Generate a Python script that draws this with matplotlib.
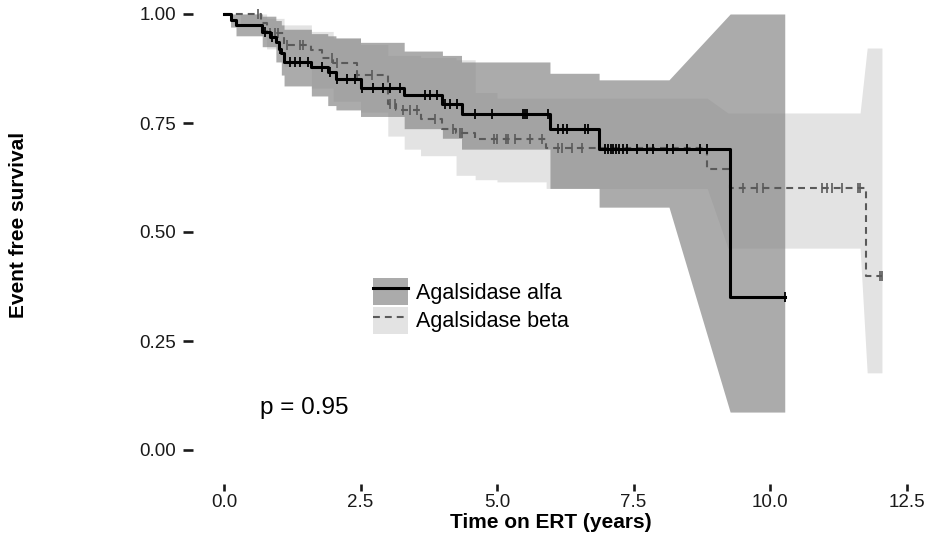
import numpy as np
import matplotlib
matplotlib.use("Agg")
import matplotlib.pyplot as plt
from matplotlib.patches import Patch
from matplotlib.lines import Line2D

plt.rcParams['font.family'] = ['Liberation Sans', 'DejaVu Sans']

# ---------------- data ----------------
alfa_t = [0, 0.12, 0.22, 0.70, 0.85, 0.95, 1.00, 1.05, 1.10, 1.60, 1.90, 2.05, 2.50, 3.30, 4.00, 4.35, 5.97, 6.87, 9.27]
alfa_s = [1.0, 0.986, 0.975, 0.958, 0.947, 0.935, 0.92, 0.91, 0.889, 0.878, 0.866, 0.852, 0.831, 0.815, 0.794, 0.771, 0.737, 0.69, 0.35]
alfa_end = 10.27
alfa_cens = [0.75, 0.88, 1.03, 1.21, 1.30, 1.39, 1.54, 1.79, 1.94, 2.07, 2.25, 2.40, 2.53, 2.73, 2.91, 3.04,
             3.22, 3.68, 3.77, 3.90, 4.05, 4.14, 4.27, 4.60, 4.91, 5.48, 5.51, 5.55, 5.93, 6.12, 6.21, 6.28,
             6.61, 6.67, 6.98, 7.03, 7.08, 7.13, 7.18, 7.24, 7.30, 7.38, 7.56, 7.75, 7.86, 8.11, 8.22, 8.48,
             8.72, 8.85, 10.27]

beta_t = [0, 0.68, 0.78, 1.10, 1.60, 1.80, 2.00, 2.44, 3.00, 3.15, 3.60, 4.00, 4.25, 4.60, 5.90, 8.85, 9.27, 11.75]
beta_s = [1.0, 0.98, 0.956, 0.93, 0.917, 0.898, 0.887, 0.86, 0.794, 0.78, 0.76, 0.737, 0.727, 0.714, 0.693, 0.645, 0.60, 0.40]
beta_end = 12.05
beta_cens = [0.62, 0.84, 0.93, 0.99, 1.15, 1.39, 1.45, 1.98, 2.07, 2.44, 2.71, 3.04, 3.13, 3.28, 3.41, 3.53,
             3.86, 4.19, 4.32, 4.36, 4.95, 5.00, 5.16, 5.20, 5.33, 5.60, 5.82, 6.12, 6.19, 6.37, 6.56,
             9.51, 9.76, 9.87, 10.95, 11.04, 11.14, 11.32, 11.61, 11.65, 12.01, 12.05]

alfa_band_t = [0, 0.12, 0.22, 0.70, 0.95, 1.05, 1.10, 1.60, 1.90, 2.05, 2.50, 3.30, 4.00, 4.35, 5.97, 6.87, 8.15, 9.27, 10.27]
alfa_band_lo = [1.0, 0.97, 0.95, 0.925, 0.89, 0.86, 0.835, 0.812, 0.79, 0.78, 0.765, 0.737, 0.715, 0.69, 0.60, 0.557, 0.557, 0.087, 0.087]
alfa_band_hi = [1.0, 1.0, 1.0, 0.995, 0.985, 0.975, 0.965, 0.955, 0.95, 0.945, 0.935, 0.915, 0.905, 0.89, 0.864, 0.849, 0.849, 1.0, 1.0]
alfa_band_linear = [16]

beta_band_t = [0, 0.30, 0.68, 0.78, 1.10, 1.60, 2.00, 2.50, 3.00, 3.30, 3.60, 4.25, 4.60, 5.00, 5.90, 8.85, 9.23, 11.65, 11.78, 12.05]
beta_band_lo = [1.0, 0.975, 0.95, 0.92, 0.88, 0.83, 0.80, 0.775, 0.72, 0.69, 0.675, 0.63, 0.62, 0.615, 0.60, 0.60, 0.463, 0.463, 0.177, 0.177]
beta_band_hi = [1.0, 1.0, 1.0, 0.99, 0.975, 0.96, 0.945, 0.93, 0.905, 0.905, 0.90, 0.895, 0.82, 0.807, 0.807, 0.807, 0.773, 0.773, 0.922, 0.922]
beta_band_linear = [15, 17]

groups = ["Agalsidase alfa", "Agalsidase beta"]
p_text = "p = 0.95"
x_ticks = [0.0, 2.5, 5.0, 7.5, 10.0, 12.5]
y_ticks = [0.00, 0.25, 0.50, 0.75, 1.00]


def band_vertices(t, lo, hi, linear):
    xs, ls, hs = [t[0]], [lo[0]], [hi[0]]
    for i in range(1, len(t)):
        if (i - 1) not in linear:
            xs.append(t[i]); ls.append(lo[i - 1]); hs.append(hi[i - 1])
        xs.append(t[i]); ls.append(lo[i]); hs.append(hi[i])
    return xs, ls, hs


def surv_at(times, t, s):
    idx = np.searchsorted(np.array(t), np.array(times), side='right') - 1
    return np.array(s)[idx]


# ---------------- figure ----------------
W, H = 927, 536
fig = plt.figure(figsize=(W / 100, H / 100), dpi=100)
left, right, top, bottom = 193, 927, 0, 484
ax = fig.add_axes([left / W, (H - bottom) / H, (right - left) / W, (bottom - top) / H])

# x: X = 224 + 54.6 t ; y: Y = 450 - 436 s
ax.set_xlim((left - 224) / 54.6, (right - 224) / 54.6)
ax.set_ylim((450 - bottom) / 436, (450 - top) / 436)

beta_fill = '#e3e3e3'
alfa_fill = '#898989'
alfa_alpha = 0.71
beta_line = '#5a5a5a'

bx, bl, bh = band_vertices(beta_band_t, beta_band_lo, beta_band_hi, beta_band_linear)
ax.fill_between(bx, bl, bh, color=beta_fill, linewidth=0, zorder=1)
axx, al, ah = band_vertices(alfa_band_t, alfa_band_lo, alfa_band_hi, alfa_band_linear)
ax.fill_between(axx, al, ah, color=alfa_fill, alpha=alfa_alpha, linewidth=0, zorder=2)

ax.step(beta_t + [beta_end], beta_s + [beta_s[-1]], where='post', color=beta_line,
        lw=1.5, dashes=(3.3, 2.4), zorder=3)
ax.plot(beta_cens, surv_at(beta_cens, beta_t, beta_s), ls='none', marker='|',
        ms=7, mew=1.2, color=beta_line, zorder=3)

ax.step(alfa_t + [alfa_end], alfa_s + [alfa_s[-1]], where='post', color='black',
        lw=2.2, zorder=4)
ax.plot(alfa_cens, surv_at(alfa_cens, alfa_t, alfa_s), ls='none', marker='|',
        ms=7, mew=1.3, color='black', zorder=4)

for sp in ax.spines.values():
    sp.set_visible(False)
ax.set_xticks(x_ticks)
ax.set_xticklabels([f"{v:.1f}" for v in x_ticks])
ax.set_yticks(y_ticks)
ax.set_yticklabels([f"{v:.2f}" for v in y_ticks])
ax.tick_params(axis='y', length=7, width=1.9, color='#1a1a1a', pad=5, labelsize=13.5, labelcolor='#1a1a1a')
ax.tick_params(axis='x', length=5, width=1.9, color='#1a1a1a', pad=2, labelsize=13.5, labelcolor='#1a1a1a')
ax.patch.set_alpha(0)

ax.set_xlabel("Time on ERT (years)", fontsize=15, fontweight='bold')
ax.xaxis.set_label_coords((551 - left) / (right - left), (bottom - 513) / (bottom - top))
ax.set_ylabel("Event free survival", fontsize=15, fontweight='bold')
ax.yaxis.set_label_coords((28 - left) / (right - left), (bottom - 225) / (bottom - top))

ax.text((304 - 224) / 54.6, (450 - 408) / 436, p_text, fontsize=17.5, ha='center', va='center')

h_alfa = (Patch(facecolor=alfa_fill, alpha=alfa_alpha, edgecolor='none'),
          Line2D([], [], color='black', lw=2.2))
h_beta = (Patch(facecolor=beta_fill, edgecolor='none'),
          Line2D([], [], color=beta_line, lw=1.5, dashes=(3.3, 2.4)))
leg = fig.legend([h_alfa, h_beta], groups, loc='upper left',
                 bbox_to_anchor=(373 / W, (H - 278) / H), frameon=False, fontsize=15.5,
                 handlelength=1.63, handleheight=1.58, handletextpad=0.37, labelspacing=0.06,
                 borderpad=0, borderaxespad=0)

fig.savefig("out.png", dpi=100)
